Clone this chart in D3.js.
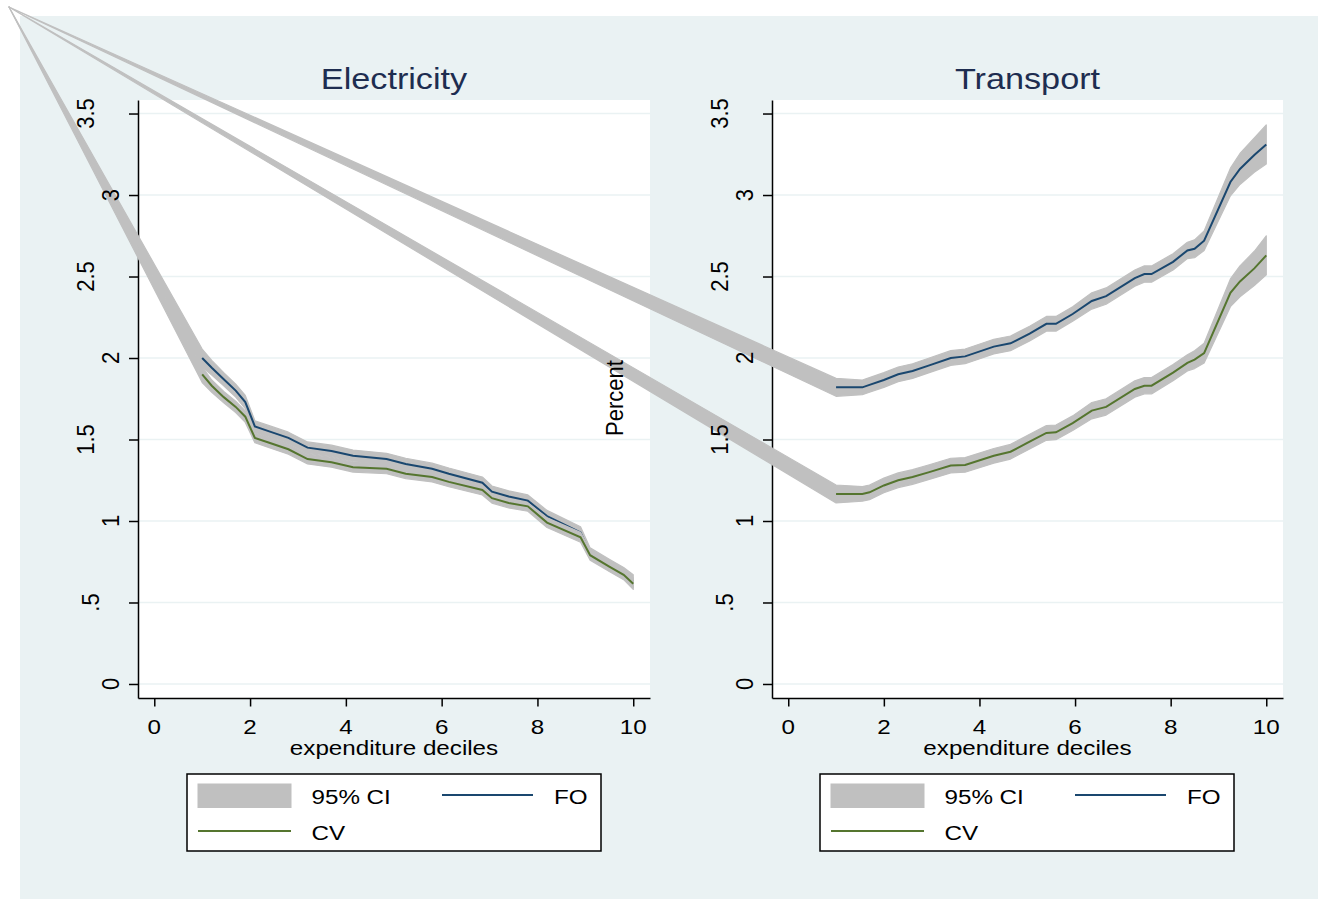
<!DOCTYPE html>
<html><head><meta charset="utf-8">
<script src="https://cdn.jsdelivr.net/npm/d3@7"></script>
<style>body{margin:0;background:#fff;} svg{display:block;font-family:"Liberation Sans",Arial,Helvetica,sans-serif;}</style>
</head><body><svg id="c" width="1318" height="899"></svg>
<script>
// ---------- data ----------
const panelTitles = ["Electricity", "Transport"];
const legendLabels = ["95% CI", "FO", "CV"];
const xTitle = "expenditure deciles";
const yTitle = "Percent";
const xTicks = [0, 2, 4, 6, 8, 10];
const yTicks = [0, 0.5, 1, 1.5, 2, 2.5, 3, 3.5];
const yTickLabels = ["0", ".5", "1", "1.5", "2", "2.5", "3", "3.5"];

const elecX    = [1.0, 1.2, 1.45, 1.7, 1.9, 2.1, 2.4, 2.8, 3.2, 3.7, 4.15, 4.85, 5.25, 5.8, 6.15, 6.85, 7.05, 7.4, 7.8, 8.2, 8.9, 9.1, 9.5, 9.8, 10.0];
const elecFO   = [2.00, 1.94, 1.87, 1.80, 1.73, 1.58, 1.55, 1.51, 1.45, 1.43, 1.40, 1.38, 1.35, 1.32, 1.29, 1.235, 1.18, 1.15, 1.125, 1.03, 0.93, 0.80, 0.73, 0.68, 0.63];
const elecFOlo = [1.945, 1.895, 1.83, 1.76, 1.69, 1.545, 1.515, 1.475, 1.415, 1.395, 1.365, 1.345, 1.315, 1.285, 1.255, 1.20, 1.145, 1.115, 1.09, 0.995, 0.895, 0.765, 0.695, 0.645, 0.59];
const elecFOhi = [2.055, 1.985, 1.91, 1.84, 1.77, 1.615, 1.585, 1.545, 1.485, 1.465, 1.435, 1.415, 1.385, 1.355, 1.325, 1.27, 1.215, 1.185, 1.16, 1.065, 0.965, 0.835, 0.765, 0.715, 0.67];
const elecCV   = [1.90, 1.83, 1.76, 1.70, 1.64, 1.51, 1.48, 1.44, 1.38, 1.36, 1.33, 1.32, 1.29, 1.27, 1.24, 1.19, 1.14, 1.11, 1.09, 0.99, 0.90, 0.79, 0.72, 0.67, 0.615];
const elecCVlo = [1.85, 1.79, 1.725, 1.665, 1.605, 1.48, 1.45, 1.41, 1.35, 1.33, 1.30, 1.29, 1.26, 1.24, 1.21, 1.16, 1.11, 1.08, 1.06, 0.96, 0.87, 0.76, 0.69, 0.64, 0.58];
const elecCVhi = [1.945, 1.865, 1.795, 1.735, 1.675, 1.54, 1.51, 1.47, 1.41, 1.39, 1.36, 1.35, 1.32, 1.30, 1.27, 1.215, 1.163, 1.133, 1.11, 1.02, 0.93, 0.82, 0.75, 0.70, 0.65];

const transX    = [1.0, 1.55, 1.7, 2.0, 2.3, 2.6, 2.95, 3.4, 3.7, 4.3, 4.65, 5.05, 5.4, 5.6, 5.95, 6.35, 6.65, 7.25, 7.45, 7.6, 8.05, 8.35, 8.5, 8.7, 9.25, 9.45, 9.75, 10.0];
const transFO   = [1.82, 1.82, 1.835, 1.865, 1.90, 1.92, 1.955, 2.00, 2.01, 2.07, 2.09, 2.15, 2.21, 2.21, 2.27, 2.35, 2.38, 2.49, 2.515, 2.515, 2.59, 2.66, 2.67, 2.72, 3.08, 3.16, 3.245, 3.31];
const transFOlo = [1.765, 1.775, 1.79, 1.82, 1.855, 1.875, 1.91, 1.955, 1.965, 2.025, 2.045, 2.105, 2.165, 2.165, 2.225, 2.30, 2.33, 2.44, 2.465, 2.465, 2.54, 2.61, 2.615, 2.66, 2.995, 3.065, 3.14, 3.19];
const transFOhi = [1.875, 1.865, 1.88, 1.91, 1.945, 1.965, 2.00, 2.045, 2.055, 2.115, 2.135, 2.195, 2.255, 2.255, 2.315, 2.40, 2.43, 2.54, 2.565, 2.565, 2.64, 2.71, 2.725, 2.78, 3.165, 3.255, 3.35, 3.43];
const transCV   = [1.166, 1.166, 1.176, 1.218, 1.25, 1.27, 1.30, 1.34, 1.344, 1.40, 1.425, 1.487, 1.54, 1.544, 1.60, 1.677, 1.70, 1.81, 1.83, 1.83, 1.91, 1.97, 1.99, 2.03, 2.40, 2.47, 2.55, 2.63];
const transCVlo = [1.111, 1.121, 1.131, 1.173, 1.205, 1.225, 1.255, 1.295, 1.299, 1.355, 1.38, 1.442, 1.495, 1.499, 1.555, 1.627, 1.65, 1.76, 1.78, 1.78, 1.86, 1.92, 1.935, 1.97, 2.315, 2.375, 2.445, 2.51];
const transCVhi = [1.221, 1.211, 1.221, 1.263, 1.295, 1.315, 1.345, 1.385, 1.389, 1.445, 1.47, 1.532, 1.585, 1.589, 1.645, 1.727, 1.75, 1.86, 1.88, 1.88, 1.96, 2.02, 2.045, 2.09, 2.485, 2.565, 2.655, 2.75];

// ---------- styling / layout ----------
const C = {bg:"#EAF2F3", grid:"#EAF2F3", band:"#C0C0C0", fo:"#1A476F", cv:"#55752F", title:"#1E2D50", ink:"#000"};
const xDomain = [-0.34, 10.35], yDomain = [-0.086, 3.583];
const plotTop = 100, plotBottom = 698;
const bandOrigin = [9, 7]; // stray vertex of the CI areas in the source rendering
const yLabelGap = s => s.length === 1 ? 19.5 : (s.length === 2 ? 39 : 44);

const panels = [
  {title: panelTitles[0], left: 138, right: 650, legendLeft: 187,
   x: elecX, fo: elecFO, foLo: elecFOlo, foHi: elecFOhi, cv: elecCV, cvLo: elecCVlo, cvHi: elecCVhi},
  {title: panelTitles[1], left: 772, right: 1283, legendLeft: 820,
   x: transX, fo: transFO, foLo: transFOlo, foHi: transFOhi, cv: transCV, cvLo: transCVlo, cvHi: transCVhi}
];

const svg = d3.select("#c");
svg.append("rect").attr("width", 1318).attr("height", 899).attr("fill", "#fff");
svg.append("rect").attr("x", 20).attr("y", 16).attr("width", 1298).attr("height", 883).attr("fill", C.bg);

const baseLayer = svg.append("g");
const markLayer = svg.append("g");
const textLayer = svg.append("g");

const lineGen = d3.line();

panels.forEach((p, pi) => {
  const x = d3.scaleLinear().domain(xDomain).range([p.left, p.right]);
  const y = d3.scaleLinear().domain(yDomain).range([plotBottom, plotTop]);
  const cx = (p.left + p.right) / 2;
  const g = baseLayer.append("g");
  const m = markLayer.append("g");
  const t = textLayer.append("g");

  // title
  t.append("text").text(p.title)
    .attr("text-anchor", "middle").attr("font-size", 29).attr("fill", C.title)
    .attr("transform", `translate(${cx},88.5) scale(1.18,1)`);

  // plot region
  g.append("rect").attr("x", p.left).attr("y", plotTop)
    .attr("width", p.right - p.left).attr("height", plotBottom - plotTop).attr("fill", "#fff");

  // grid
  g.append("g").selectAll("line").data(yTicks).join("line")
    .attr("x1", p.left).attr("x2", p.right)
    .attr("y1", d => y(d)).attr("y2", d => y(d))
    .attr("stroke", C.grid).attr("stroke-width", 1.6);

  // axes (lines & ticks in the base layer, labels moved to the text layer)
  const ay = g.append("g").attr("transform", `translate(${p.left},0)`)
    .call(d3.axisLeft(y).tickValues(yTicks).tickFormat((d, j) => yTickLabels[j]).tickSize(9).tickSizeOuter(0));
  ay.select(".domain").attr("stroke", C.ink).attr("stroke-width", 1.5);
  ay.selectAll(".tick line").attr("stroke", C.ink).attr("stroke-width", 1.5);
  ay.selectAll(".tick text").remove();
  t.append("g").selectAll("text").data(yTicks).join("text")
    .text((d, j) => yTickLabels[j])
    .attr("text-anchor", "middle").attr("font-size", 22).attr("fill", C.ink)
    .attr("transform", (d, j) => `translate(${p.left - yLabelGap(yTickLabels[j])},${y(d)}) scale(1.1,1) rotate(-90)`);

  const ax = g.append("g").attr("transform", `translate(0,${plotBottom})`)
    .call(d3.axisBottom(x).tickValues(xTicks).tickFormat(d3.format("d")).tickSize(8.5).tickSizeOuter(0));
  ax.select(".domain").attr("stroke", C.ink).attr("stroke-width", 1.5);
  ax.selectAll(".tick line").attr("stroke", C.ink).attr("stroke-width", 1.5);
  ax.selectAll(".tick text").remove();
  t.append("g").selectAll("text").data(xTicks).join("text")
    .text(d3.format("d"))
    .attr("text-anchor", "middle").attr("font-size", 20.5).attr("fill", C.ink)
    .attr("transform", d => `translate(${x(d)},${plotBottom + 36}) scale(1.18,1)`);

  t.append("text").text(xTitle)
    .attr("text-anchor", "middle").attr("font-size", 20.5).attr("fill", C.ink)
    .attr("transform", `translate(${cx},755) scale(1.18,1)`);

  // bands + lines (CI area includes the stray origin vertex, as in the source)
  const bandPath = (lo, hi) => {
    const upper = p.x.map((v, k) => [x(v), y(hi[k])]);
    const lower = p.x.map((v, k) => [x(v), y(lo[k])]).reverse();
    return lineGen([bandOrigin, ...upper, ...lower]) + "Z";
  };
  const seriesPath = vals => lineGen(p.x.map((v, k) => [x(v), y(vals[k])]));

  const series = [
    {lo: p.foLo, hi: p.foHi, v: p.fo, color: C.fo},
    {lo: p.cvLo, hi: p.cvHi, v: p.cv, color: C.cv}
  ];
  series.forEach(s => {
    m.append("path").attr("d", bandPath(s.lo, s.hi))
      .attr("fill", C.band).attr("stroke", C.band).attr("stroke-width", 1.2).attr("stroke-linejoin", "round");
    m.append("path").attr("d", seriesPath(s.v))
      .attr("fill", "none").attr("stroke", s.color).attr("stroke-width", 2);
  });

  // legend
  const L = p.legendLeft;
  const lg = t.append("g").attr("transform", `translate(${L},774)`);
  lg.append("rect").attr("width", 414).attr("height", 77).attr("fill", "#fff")
    .attr("stroke", C.ink).attr("stroke-width", 1.5);
  lg.append("rect").attr("x", 10.5).attr("y", 9.5).attr("width", 94).attr("height", 24.5).attr("fill", C.band);
  lg.append("line").attr("x1", 255).attr("x2", 346).attr("y1", 21).attr("y2", 21)
    .attr("stroke", C.fo).attr("stroke-width", 2);
  lg.append("line").attr("x1", 11).attr("x2", 104).attr("y1", 57).attr("y2", 57)
    .attr("stroke", C.cv).attr("stroke-width", 2);
  const legText = [[124.5, 30, legendLabels[0]], [367, 30, legendLabels[1]], [124.5, 66, legendLabels[2]]];
  legText.forEach(tt => {
    lg.append("text").text(tt[2]).attr("font-size", 20.5).attr("fill", C.ink)
      .attr("transform", `translate(${tt[0]},${tt[1]}) scale(1.18,1)`);
  });

  if (pi === 0) {
    t.append("text").text(yTitle)
      .attr("text-anchor", "middle").attr("font-size", 22).attr("fill", C.ink)
      .attr("transform", `translate(623,398) scale(1.1,1) rotate(-90)`);
  }
});
</script>
</body></html>
